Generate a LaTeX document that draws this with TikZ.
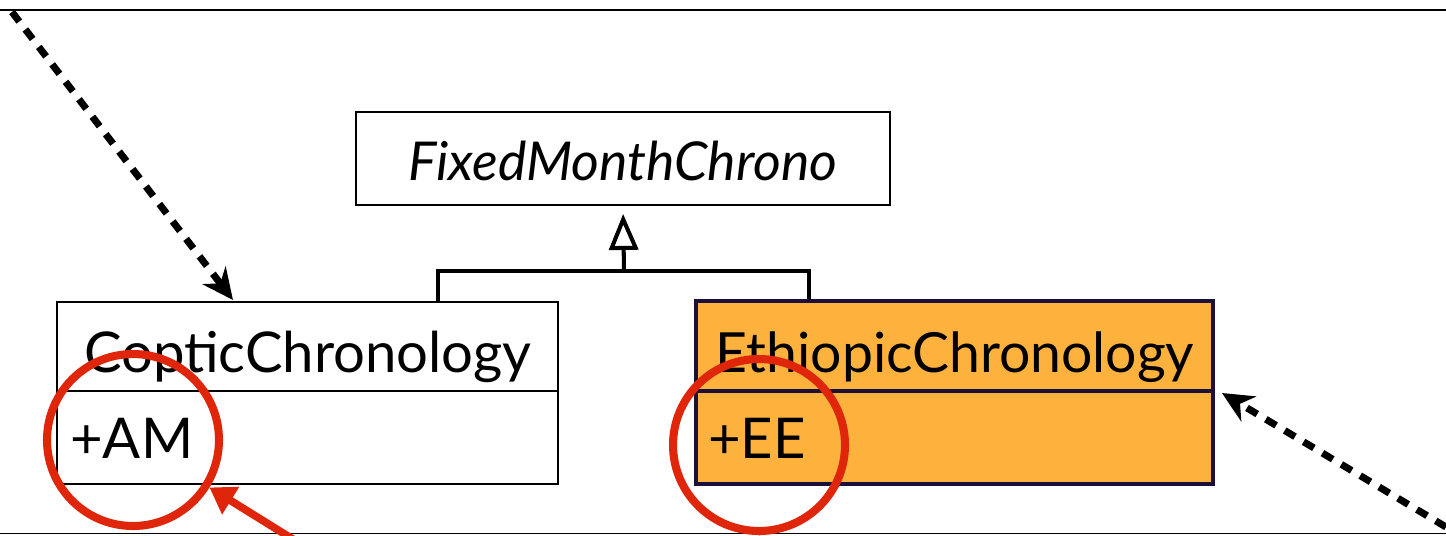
\documentclass[tikz,border=0pt]{standalone}
\usepackage{fontspec}
\setmainfont{Lato}
\usetikzlibrary{arrows.meta}
\definecolor{umlorange}{RGB}{253,178,62}
\definecolor{umlnavy}{RGB}{28,15,58}
\definecolor{markred}{RGB}{224,38,10}
\begin{document}
\begin{tikzpicture}[x=0.02cm,y=-0.02cm,
  classbox/.style={draw=black, line width=1.1pt, inner sep=0pt},
  hotbox/.style={draw=umlnavy, fill=umlorange, line width=2pt, inner sep=0pt},
  divider/.style={line width=1.1pt},
  hotdivider/.style={draw=umlnavy, line width=2pt},
  classname/.style={anchor=base, inner sep=0pt, font=\fontsize{32}{38}\selectfont},
  attr/.style={anchor=base west, inner sep=0pt, font=\fontsize{32}{38}\selectfont},
  genline/.style={line width=2.3pt},
  dep/.style={line width=4pt, dash pattern=on 0.24cm off 0.2cm,
    -{Stealth[length=0.62cm, width=0.58cm, inset=0.2cm]}},
  ring/.style={circle, draw=markred, line width=4.6pt, minimum size=3.44cm, inner sep=0pt},
  markarrow/.style={draw=markred, line width=4.4pt,
    -{Triangle[length=0.5cm, width=0.62cm]}}]
\useasboundingbox (0,0) rectangle (1446,535);
\clip (0,0) rectangle (1446,535);

% frame rules
\draw[line width=1.5pt] (0,10) -- (1446,10);
\draw[line width=1.1pt] (0,533.5) -- (1446,533.5);

% abstract parent class
\node[classbox, minimum width=10.68cm, minimum height=1.86cm] (fixed) at (623,158.5) {};
\node[anchor=base, inner sep=0pt, font=\fontsize{30.5}{36}\selectfont\itshape] (fixedname) at (623,180) {FixedMonthChrono};

% Coptic class
\coordinate (ydiv) at (0,391);
\node[classbox, minimum width=10.02cm, minimum height=3.64cm] (coptic) at (307.5,393) {};
\draw[divider] (coptic.west |- ydiv) -- (coptic.east |- ydiv);
\node[classname] (copticname) at (308,372) {CopticChronology};
\node[attr] (am) at (70,458) {+AM};

% Ethiopic class (highlighted)
\node[hotbox, minimum width=10.34cm, minimum height=3.66cm] (ethiopic) at (954.5,392.5) {};
\draw[hotdivider] (ethiopic.west |- ydiv) -- (ethiopic.east |- ydiv);
\node[classname, font=\fontsize{31.5}{38}\selectfont] (ethiopicname) at (955,372) {EthiopicChronology};
\node[attr] (ee) at (708,458) {+EE};

% generalization
\coordinate (bus) at (624,271);
\coordinate (cleg) at (438,0);
\coordinate (eleg) at (809,0);
\draw[genline] (coptic.north -| cleg) |- (bus) -| (ethiopic.north -| eleg);
\draw[genline, shorten >=0.16cm, -{Triangle[open, length=0.72cm, width=0.58cm]}] (bus) -- (fixed.south);

% dependency arrows
\coordinate (depsrcA) at (12,12);
\coordinate (depdstA) at (233,300);
\draw[dep] (depsrcA) -- (depdstA);
\coordinate (depsrcB) at (1446,527);
\coordinate (depdstB) at (1222,393);
\draw[dep] (depsrcB) -- (depdstB);

% red highlight rings
\node[ring] (amring) at (133,440) {};
\node[ring] (eering) at (759,445) {};
\coordinate (amsrc) at (307,548);
\coordinate (eesrc) at (760,570);
\draw[markarrow] (amsrc) -- (amring);
\draw[markarrow] (eesrc) -- (eering);
\end{tikzpicture}
\end{document}
